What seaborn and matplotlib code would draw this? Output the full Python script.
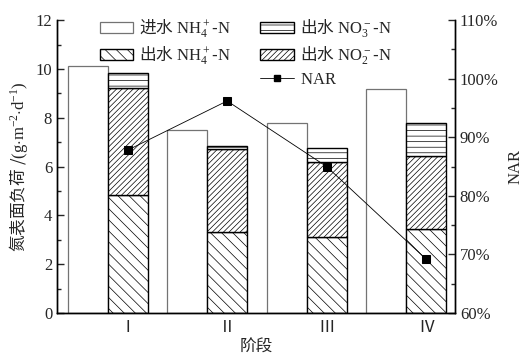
import numpy as np
import matplotlib
matplotlib.use("Agg")
import matplotlib.pyplot as plt
import matplotlib.patches as mpatches
from matplotlib.lines import Line2D
from matplotlib.ticker import MultipleLocator, FuncFormatter
import seaborn as sns
import pandas as pd

# data
stages = ["Ⅰ", "Ⅱ", "Ⅲ", "Ⅳ"]
inf_nh4 = [10.1, 7.5, 7.78, 9.18]
eff_nh4 = [4.82, 3.3, 3.1, 3.43]
eff_no2 = [4.38, 3.4, 3.07, 3.02]
eff_no3 = [0.62, 0.14, 0.58, 1.32]
nar = [87.8, 96.2, 85.0, 69.2]

sns.set_style("ticks")
plt.rcParams['font.family'] = ['Liberation Serif', 'Noto Sans CJK SC']
# mathtext: plain (CJK) parts use the text's own font, formula parts use \mathsf -> serif
plt.rcParams['mathtext.fontset'] = 'custom'
plt.rcParams['mathtext.rm'] = 'Liberation Serif'
plt.rcParams['mathtext.sf'] = 'Liberation Serif'
plt.rcParams['hatch.linewidth'] = 0.5
plt.rcParams['font.size'] = 12

cjk = {'family': 'Noto Sans CJK SC', 'size': 12}

fig = plt.figure(figsize=(5.25, 3.59), dpi=100)
ax = fig.add_axes([0.1086, 0.128, 0.758, 0.816])
ax2 = ax.twinx()

x = np.arange(1, len(stages) + 1)
w = 0.4
ax.bar(x - w, inf_nh4, width=w, color="white", edgecolor="0.45", linewidth=0.9)
b1 = np.array(eff_nh4)
b2 = b1 + np.array(eff_no2)
ax.bar(x, eff_nh4, width=w, color="white", edgecolor="black", linewidth=1.0, hatch="\\\\\\")
ax.bar(x, eff_no2, width=w, bottom=b1, color="white", edgecolor="black", linewidth=1.0, hatch="//////")
ax.bar(x, eff_no3, width=w, bottom=b2, color="white", edgecolor="black", linewidth=1.0, hatch="---")

df = pd.DataFrame({"x": x, "nar": nar})
sns.lineplot(data=df, x="x", y="nar", ax=ax2, color="black", linewidth=0.6,
             marker="s", markersize=6, markeredgecolor="black", legend=False)

ax.set_xlim(0.29, 4.29)
ax.set_ylim(0, 12)
ax2.set_ylim(60, 110)
ax.set_xticks(x)
ax.set_xticklabels(stages)
ax.xaxis.set_minor_locator(MultipleLocator(1, offset=0.5))
ax.yaxis.set_major_locator(MultipleLocator(2))
ax.yaxis.set_minor_locator(MultipleLocator(1))
ax2.yaxis.set_major_locator(MultipleLocator(10))
ax2.yaxis.set_minor_locator(MultipleLocator(5))
ax2.yaxis.set_major_formatter(FuncFormatter(lambda v, p: f"{v:.0f}%"))

for a in (ax, ax2):
    a.tick_params(which="both", direction="in", width=1.0, labelsize=12)
    a.tick_params(which="major", length=5)
    a.tick_params(which="minor", length=3)
    a.spines["top"].set_visible(False)
    for s in ("left", "right", "bottom"):
        a.spines[s].set_linewidth(1.0)
        a.spines[s].set_color("black")
ax.tick_params(axis="x", pad=5)
ax2.set_xlabel("")

ax.set_xlabel("阶段", fontdict=cjk, labelpad=2)
ax.set_ylabel(r"氮表面负荷 /$\mathsf{(g{\cdot}m^{-2}{\cdot}d^{-1})}$", fontdict=cjk, labelpad=4)
ax2.set_ylabel("NAR", fontsize=12, labelpad=6)

handles = [
    mpatches.Patch(facecolor="white", edgecolor="0.45", linewidth=0.9),
    mpatches.Patch(facecolor="white", edgecolor="black", hatch="\\\\\\"),
    mpatches.Patch(facecolor="none", edgecolor="none"),
    mpatches.Patch(facecolor="white", edgecolor="black", hatch="---"),
    mpatches.Patch(facecolor="white", edgecolor="black", hatch="//////"),
    Line2D([], [], color="black", linewidth=0.6, marker="s", markersize=5),
]
labels = [r"进水 $\mathsf{NH_4^+}$-$\mathsf{N}$",
          r"出水 $\mathsf{NH_4^+}$-$\mathsf{N}$",
          "",
          r"出水 $\mathsf{NO_3^-}$-$\mathsf{N}$",
          r"出水 $\mathsf{NO_2^-}$-$\mathsf{N}$",
          r"$\mathsf{NAR}$"]
leg = ax.legend(handles, labels, ncol=2, frameon=False, loc="upper left",
                bbox_to_anchor=(0.108, 1.01), borderpad=0, borderaxespad=0,
                handlelength=2.0, handleheight=0.7, columnspacing=1.75,
                handletextpad=0.35, labelspacing=0.3, prop=cjk)

fig.savefig("out.png", dpi=100)
